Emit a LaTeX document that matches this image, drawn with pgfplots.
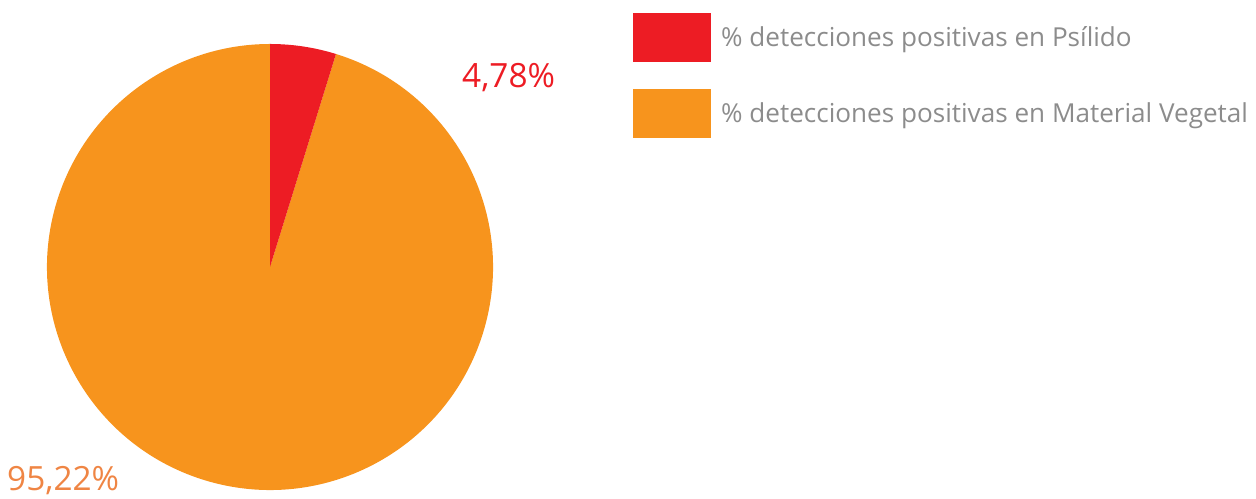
\documentclass[border=0pt]{standalone}
\usepackage{pgfplots}
\pgfplotsset{compat=1.18}
\usepackage{fontspec}
\setmainfont{Open Sans}
\definecolor{cRed}{HTML}{ED1C24}
\definecolor{cOrange}{HTML}{F7941D}
\definecolor{cOrangeTxt}{HTML}{EF8544}
\definecolor{cGray}{HTML}{8C8C8C}
\begin{document}
\begin{tikzpicture}
\pgfmathsetmacro{\vA}{4.78}
\pgfmathsetmacro{\vB}{95.22}
\pgfmathsetmacro{\aEnd}{90-\vA*3.6}
\begin{axis}[x=1bp,y=1bp,xmin=0,xmax=1256,ymin=0,ymax=499,hide axis,clip=false,scale only axis]
\useasboundingbox (axis cs:0,0) rectangle (axis cs:1256,499);
% pie
\fill[cOrange] (axis cs:270,232) -- ++(\aEnd:223bp) arc[start angle=\aEnd, end angle=-270, radius=223bp] -- cycle;
\fill[cRed] (axis cs:270,232) -- ++(90:223bp) arc[start angle=90, end angle=\aEnd, radius=223bp] -- cycle;
% labels
\node[anchor=base west,inner sep=0pt,text=cRed,font=\fontsize{33.5}{38}\selectfont] at (axis cs:462,411) {4,78\%};
\node[anchor=base west,inner sep=0pt,text=cOrangeTxt,font=\fontsize{33.5}{38}\selectfont] at (axis cs:7,8) {95,22\%};
% legend
\fill[cRed] (axis cs:633,437) rectangle (axis cs:711,486);
\fill[cOrange] (axis cs:633,361) rectangle (axis cs:711,410);
\node[anchor=base west,inner sep=0pt,text=cGray,font=\fontsize{26.2}{30}\selectfont] at (axis cs:721,452) {\% detecciones positivas en Psílido};
\node[anchor=base west,inner sep=0pt,text=cGray,font=\fontsize{26.2}{30}\selectfont] at (axis cs:721,376) {\% detecciones positivas en Material Vegetal};
\end{axis}
\end{tikzpicture}
\end{document}
